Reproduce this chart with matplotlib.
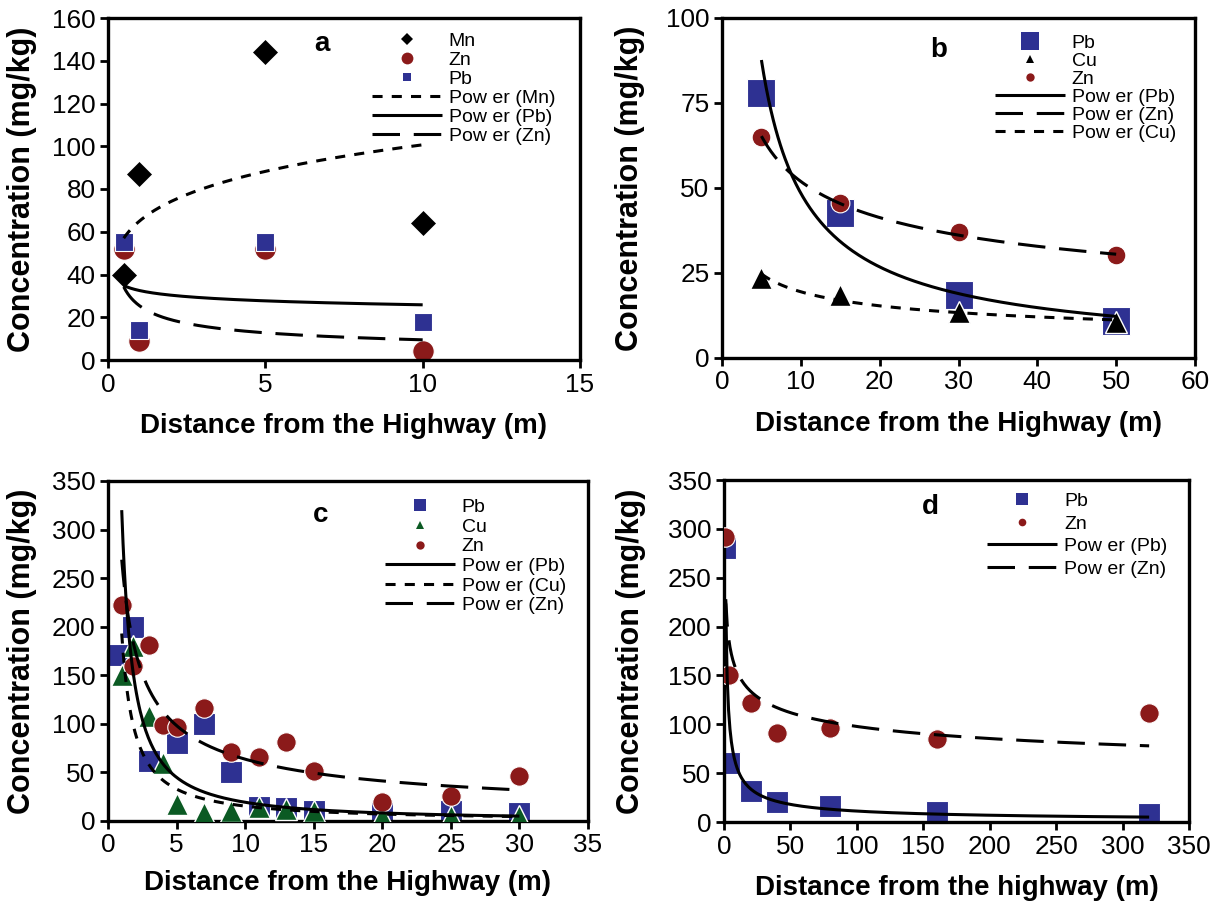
import numpy as np
import matplotlib.pyplot as plt

plt.rcParams["font.family"] = ["Liberation Sans", "DejaVu Sans"]

blue = "#2e3192"
red = "#8b1a1a"
green = "#0b5a23"

# ---- panel a ----
a_x = [0.5, 1, 5, 10]
a_mn = [40, 87, 144, 64]
a_zn = [52, 9, 52, 4]
a_pb = [55, 14, 55, 18]
# power trend lines, y = k * x**p
a_fit_mn = [65.0, 0.19]
a_fit_pb = [32.5, -0.10]
a_fit_zn = [25.4, -0.43]

# ---- panel b ----
b_x = [5, 15, 30, 50]
b_pb = [78, 42.5, 18.5, 11]
b_cu = [23.5, 18.5, 13.5, 10.5]
b_zn = [65, 45.5, 37, 30.3]
b_fit_pb = [347.0, -0.855]
b_fit_zn = [111.0, -0.33]
b_fit_cu = [43.0, -0.344]

# ---- panel c ----
c_x = [1, 1.8, 3, 4, 5, 7, 9, 11, 13, 15, 20, 25, 30]
c_pb_x = [0.75, 1.8, 3, 5, 7, 9, 11, 13, 15, 20, 25, 30]
c_pb = [171, 200, 62, 80, 100, 50, 14, 13, 10, 8, 10, 8]
c_cu = [150, 180, 108, 60, 18, 8, 10, 14, 12, 10, 5, 5, 5]
c_zn = [222, 160, 181, 99, 97, 116, 71, 66, 81, 51, 20, 26, 46]
c_fit_pb = [320.0, -1.22]
c_fit_cu = [193.0, -1.10]
c_fit_zn = [269.0, -0.626]

# ---- panel d ----
d_x = [1, 4, 20, 40, 80, 160, 320]
d_pb = [280, 60, 32, 20.5, 16, 10, 8]
d_zn = [292, 150, 122, 91, 96, 85, 112]
d_fit_pb = [268.0, -0.69]
d_fit_zn = [240.0, -0.195]

W, H = 1223, 907
fig = plt.figure(figsize=(W / 100, H / 100), dpi=100)


def add_ax(l, t, r, b):
    return fig.add_axes([l / W, 1 - b / H, (r - l) / W, (b - t) / H])


SHORT = (3.3, 3.0)
LONG = (9, 4.5)
SOLID = None


def power_line(ax, fit, x0, x1, dash, label):
    xs = np.linspace(x0, x1, 300)
    ys = fit[0] * xs ** fit[1]
    line, = ax.plot(xs, ys, color="black", lw=2.2, label=label, zorder=6,
                    solid_capstyle="butt")
    if dash is not None:
        line.set_dashes(dash)
    return line


def style(ax, xlim, xticks, ylim, yticks, xlabel, letter, lpos, ylx, xly):
    ax.set_xlim(*xlim)
    ax.set_ylim(*ylim)
    ax.set_xticks(xticks)
    ax.set_yticks(yticks)
    for s in ax.spines.values():
        s.set_linewidth(2.4)
    ax.tick_params(direction="out", length=6, width=2, labelsize=18.8, pad=3,
                   top=False, right=False)
    ax.set_ylabel("Concentration (mg/kg)", fontsize=22, fontweight="bold")
    ax.set_xlabel(xlabel, fontsize=20, fontweight="bold")
    ax.yaxis.set_label_coords(ylx, 0.5)
    ax.xaxis.set_label_coords(0.5, xly)
    ax.text(lpos[0], lpos[1], letter, transform=ax.transAxes, fontsize=20,
            fontweight="bold", ha="center", va="center")


def legend(ax, handles, anchor, msizes, spacing=0.07):
    leg = ax.legend(handles=handles, loc="upper left", bbox_to_anchor=anchor,
                    frameon=False, fontsize=14, labelspacing=spacing,
                    handlelength=3.6, handletextpad=0.35, borderpad=0,
                    borderaxespad=0, numpoints=1)
    for h, ms in zip(leg.legend_handles, msizes):
        h.set_markersize(ms)
        h.set_markeredgewidth(0)
    return leg


# panel a
ax = add_ax(108, 18, 580, 360)
h_zn, = ax.plot(a_x, a_zn, ls="none", marker="o", ms=15.5, mfc=red, mec="white",
                mew=0.8, label="Zn", zorder=2)
h_pb, = ax.plot(a_x, a_pb, ls="none", marker="s", ms=13.3, mfc=blue, mec="white",
                mew=0.8, label="Pb", zorder=3)
h_mn, = ax.plot(a_x, a_mn, ls="none", marker="D", ms=12.5, mfc="black", mec="black",
                mew=0.5, label="Mn", zorder=4)
l1 = power_line(ax, a_fit_mn, 0.5, 10, SHORT, "Pow er (Mn)")
l2 = power_line(ax, a_fit_pb, 0.5, 10, SOLID, "Pow er (Pb)")
l3 = power_line(ax, a_fit_zn, 0.5, 10, LONG, "Pow er (Zn)")
style(ax, (0, 15), [0, 5, 10, 15], (0, 160), range(0, 161, 20),
      "Distance from the Highway (m)", "a", (0.453, 0.924), -0.15, -0.155)
legend(ax, [h_mn, h_zn, h_pb, l1, l2, l3], (0.559, 0.958), [6.5, 8.5, 5.5])

# panel b
ax = add_ax(722, 18, 1195, 358)
h_pb, = ax.plot(b_x, b_pb, ls="none", marker="s", ms=20.5, mfc=blue, mec="white",
                mew=0.8, label="Pb", zorder=2)
h_cu, = ax.plot(b_x, b_cu, ls="none", marker="^", ms=16, mfc="black", mec="white",
                mew=1.0, label="Cu", zorder=3)
h_zn, = ax.plot(b_x, b_zn, ls="none", marker="o", ms=13.5, mfc=red, mec="white",
                mew=0.8, label="Zn", zorder=4)
l1 = power_line(ax, b_fit_pb, 5, 50, SOLID, "Pow er (Pb)")
l2 = power_line(ax, b_fit_zn, 5, 50, LONG, "Pow er (Zn)")
l3 = power_line(ax, b_fit_cu, 5, 50, SHORT, "Pow er (Cu)")
style(ax, (0, 60), range(0, 61, 10), (0, 100), [0, 25, 50, 75, 100],
      "Distance from the Highway (m)", "b", (0.459, 0.906), -0.163, -0.155)
legend(ax, [h_pb, h_cu, h_zn, l1, l2, l3], (0.577, 0.951), [13, 6, 6], 0.02)

# panel c
ax = add_ax(108, 481, 588, 821)
h_pb, = ax.plot(c_pb_x, c_pb, ls="none", marker="s", ms=16.5, mfc=blue, mec="white",
                mew=0.8, label="Pb", zorder=2)
h_cu, = ax.plot(c_x, c_cu, ls="none", marker="^", ms=16.5, mfc=green, mec="white",
                mew=1.0, label="Cu", zorder=3)
h_zn, = ax.plot(c_x, c_zn, ls="none", marker="o", ms=14, mfc=red, mec="white",
                mew=0.8, label="Zn", zorder=4)
l1 = power_line(ax, c_fit_pb, 1, 30, SOLID, "Pow er (Pb)")
l2 = power_line(ax, c_fit_cu, 1, 30, SHORT, "Pow er (Cu)")
l3 = power_line(ax, c_fit_zn, 1, 30, LONG, "Pow er (Zn)")
style(ax, (0, 35), range(0, 36, 5), (0, 350), range(0, 351, 50),
      "Distance from the Highway (m)", "c", (0.442, 0.9), -0.148, -0.145)
legend(ax, [h_pb, h_cu, h_zn, l1, l2, l3], (0.577, 0.948), [8, 6, 6], 0.1)

# panel d
ax = add_ax(724, 480, 1189, 822)
h_pb, = ax.plot(d_x, d_pb, ls="none", marker="s", ms=16, mfc=blue, mec="white",
                mew=0.8, label="Pb", zorder=2)
h_zn, = ax.plot(d_x, d_zn, ls="none", marker="o", ms=14, mfc=red, mec="white",
                mew=0.8, label="Zn", zorder=3)
l1 = power_line(ax, d_fit_pb, 1.3, 320, SOLID, "Pow er (Pb)")
l2 = power_line(ax, d_fit_zn, 1.3, 320, LONG, "Pow er (Zn)")
style(ax, (0, 350), range(0, 351, 50), (0, 350), range(0, 351, 50),
      "Distance from the highway (m)", "d", (0.443, 0.921), -0.168, -0.155)
legend(ax, [h_pb, h_zn, l1, l2], (0.566, 0.963), [8.5, 5.5], 0.25)

fig.savefig("out.png", dpi=100)
